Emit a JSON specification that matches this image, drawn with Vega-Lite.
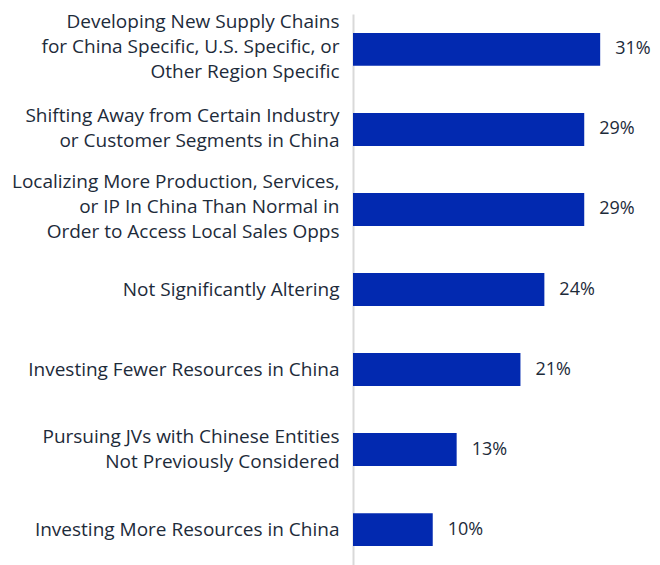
{
  "$schema": "https://vega.github.io/schema/vega-lite/v6.json",
  "width": 303,
  "height": 551,
  "autosize": {"type": "none"},
  "padding": {"left": 353, "top": 14, "right": 4, "bottom": 0},
  "background": "white",
  "config": {"view": {"stroke": null}, "font": "Open Sans"},
  "data": {
    "values": [
      {"label": "Developing New Supply Chains|for China Specific, U.S. Specific, or|Other Region Specific", "pct": 0.31},
      {"label": "Shifting Away from Certain Industry|or Customer Segments in China", "pct": 0.29},
      {"label": "Localizing More Production, Services,|or IP In China Than Normal in|Order to Access Local Sales Opps", "pct": 0.29},
      {"label": "Not Significantly Altering", "pct": 0.24},
      {"label": "Investing Fewer Resources in China", "pct": 0.21},
      {"label": "Pursuing JVs with Chinese Entities|Not Previously Considered", "pct": 0.13},
      {"label": "Investing More Resources in China", "pct": 0.10}
    ]
  },
  "encoding": {
    "y": {
      "field": "label",
      "type": "nominal",
      "sort": null,
      "scale": {"paddingInner": 0.589, "paddingOuter": 0.237},
      "axis": {
        "title": null,
        "ticks": false,
        "domainColor": "#d9d9d9",
        "domainWidth": 2,
        "labelExpr": "split(datum.label, '|')",
        "labelFont": "Open Sans",
        "labelFontSize": 19,
        "labelColor": "#1d2b3a",
        "labelLineHeight": 25,
        "labelPadding": 14,
        "labelLimit": 400,
        "labelOffset": {
          "condition": [
            {"test": "length(split(datum.value, '|')) == 3", "value": -27},
            {"test": "length(split(datum.value, '|')) == 2", "value": -13}
          ],
          "value": 0
        }
      }
    },
    "x": {
      "field": "pct",
      "type": "quantitative",
      "scale": {"domain": [0, 0.38], "nice": false},
      "axis": null
    }
  },
  "layer": [
    {"mark": {"type": "bar", "color": "#0229b0"}},
    {
      "mark": {"type": "text", "align": "left", "baseline": "middle", "dx": 15, "fontSize": 18, "font": "Open Sans", "color": "#1d2b3a"},
      "encoding": {"text": {"field": "pct", "type": "quantitative", "format": ".0%"}}
    }
  ]
}
